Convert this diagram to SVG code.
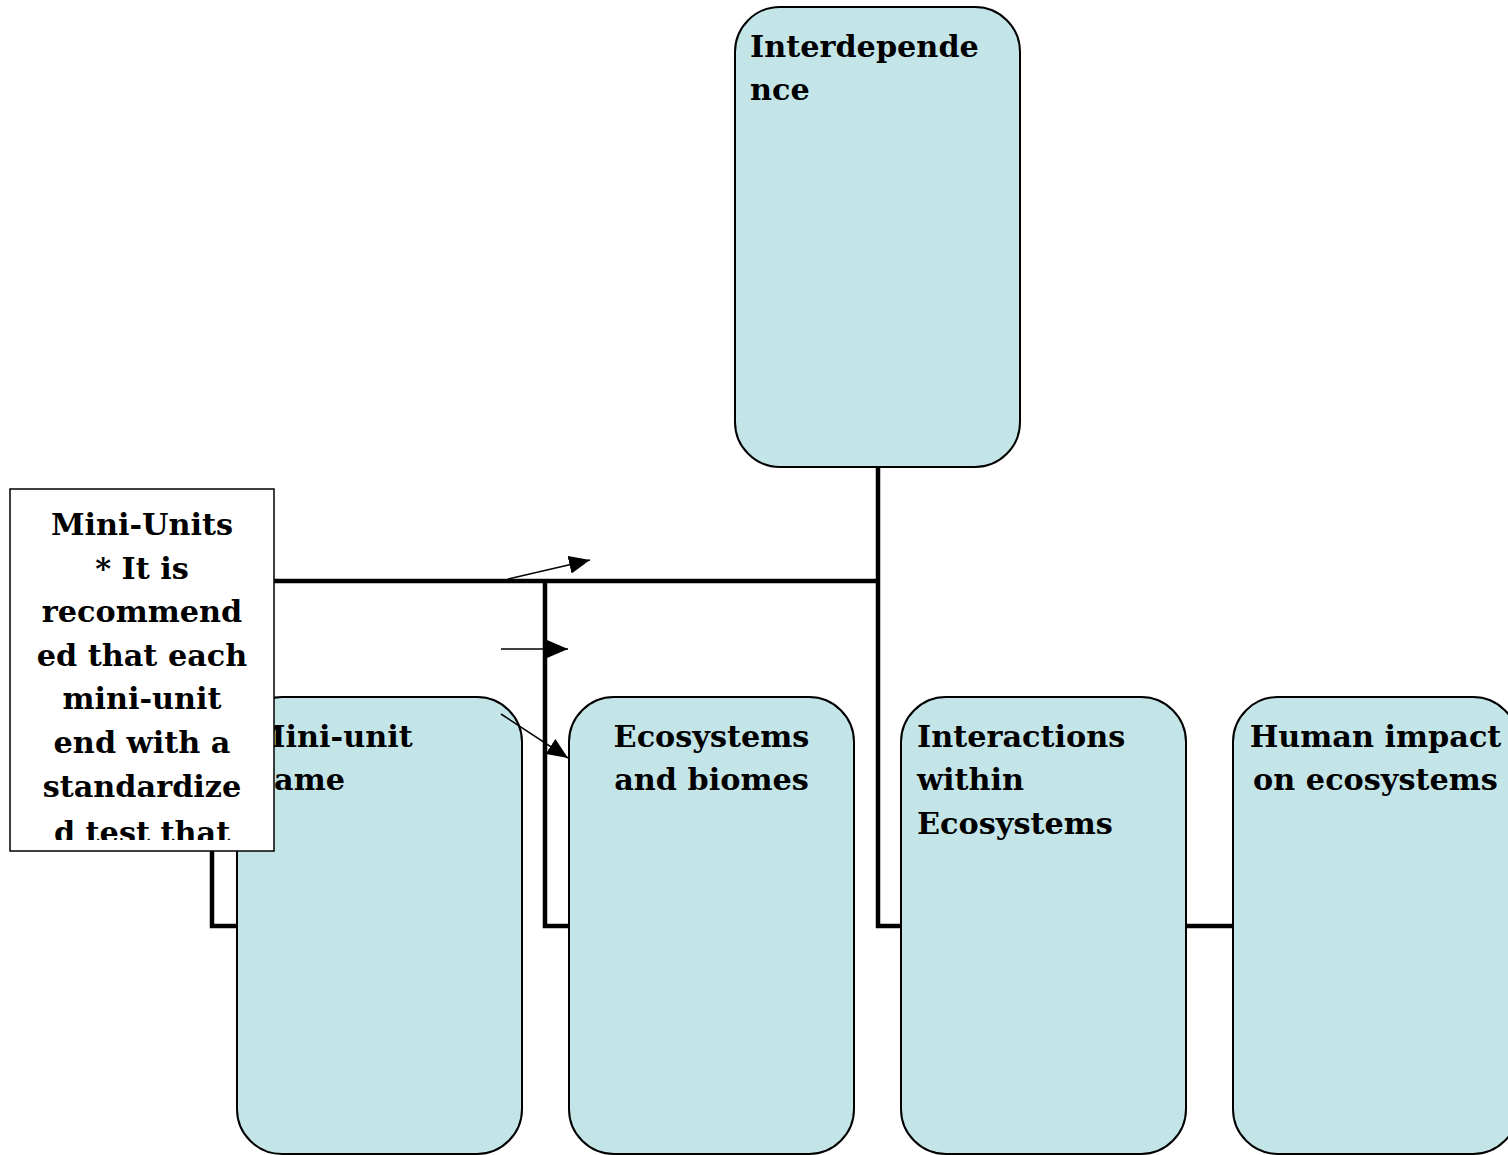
<svg xmlns="http://www.w3.org/2000/svg" width="1508" height="1155" viewBox="0 0 1508 1155">
<style>
.box{fill:#c4e5e8;stroke:#000;stroke-width:2}
.t{font-family:"DejaVu Serif","Liberation Serif",serif;font-weight:bold;font-size:30.3px;fill:#000}
.c{stroke:#000;stroke-width:4.5;fill:none}
.a{stroke:#000;stroke-width:1.5;fill:none;marker-end:url(#ah)}
</style>
<defs>
<marker id="ah" viewBox="0 0 21 18" refX="21" refY="9" markerWidth="21" markerHeight="18" markerUnits="userSpaceOnUse" orient="auto"><path d="M0,0 L21,9 L0,18 z" fill="#000"/></marker>
<clipPath id="nc"><rect x="11" y="490" width="262" height="350"/></clipPath>
</defs>
<g id="n-top"><rect class="box" x="735" y="7" width="285" height="460" rx="45"/>
<text class="t" x="750" y="57">Interdepende</text><text class="t" x="750" y="100">nce</text></g>
<g id="n-mini"><rect class="box" x="237" y="697" width="285" height="457" rx="45"/>
<text class="t" x="252" y="747">Mini-unit</text><text class="t" x="252" y="790">name</text></g>
<g id="n-eco"><rect class="box" x="569" y="697" width="285" height="457" rx="45"/>
<text class="t" x="711.5" y="747" text-anchor="middle">Ecosystems</text><text class="t" x="711.5" y="790" text-anchor="middle">and biomes</text></g>
<g id="n-inter"><rect class="box" x="901" y="697" width="285" height="457" rx="45"/>
<text class="t" x="917" y="747">Interactions</text><text class="t" x="917" y="790">within</text><text class="t" x="917" y="834">Ecosystems</text></g>
<g id="n-human"><rect class="box" x="1233" y="697" width="285" height="457" rx="45"/>
<text class="t" x="1375.5" y="747" text-anchor="middle">Human impact</text><text class="t" x="1375.5" y="790" text-anchor="middle">on ecosystems</text></g>
<g id="connectors">
<path class="c" d="M878,467 V926 H901"/>
<path class="c" d="M212,581 H878"/>
<path class="c" d="M545,581 V926 H569"/>
<path class="c" d="M212,581 V926 H237"/>
<path class="c" d="M1186,926 H1233"/>
<path class="a" d="M508,579 L590,560"/>
<path class="a" d="M501,649 L568,649"/>
<path class="a" d="M501,714 L568,758"/>
</g>
<g id="n-note"><rect x="10" y="489" width="264" height="362" fill="#fff" stroke="#000" stroke-width="1.5"/>
<g clip-path="url(#nc)" text-anchor="middle">
<text class="t" x="142" y="535">Mini-Units</text>
<text class="t" x="142" y="579">* It is</text>
<text class="t" x="142" y="622">recommend</text>
<text class="t" x="142" y="666">ed that each</text>
<text class="t" x="142" y="709">mini-unit</text>
<text class="t" x="142" y="753">end with a</text>
<text class="t" x="142" y="797">standardize</text>
<text class="t" x="142" y="843">d test that</text>
</g></g>
</svg>
